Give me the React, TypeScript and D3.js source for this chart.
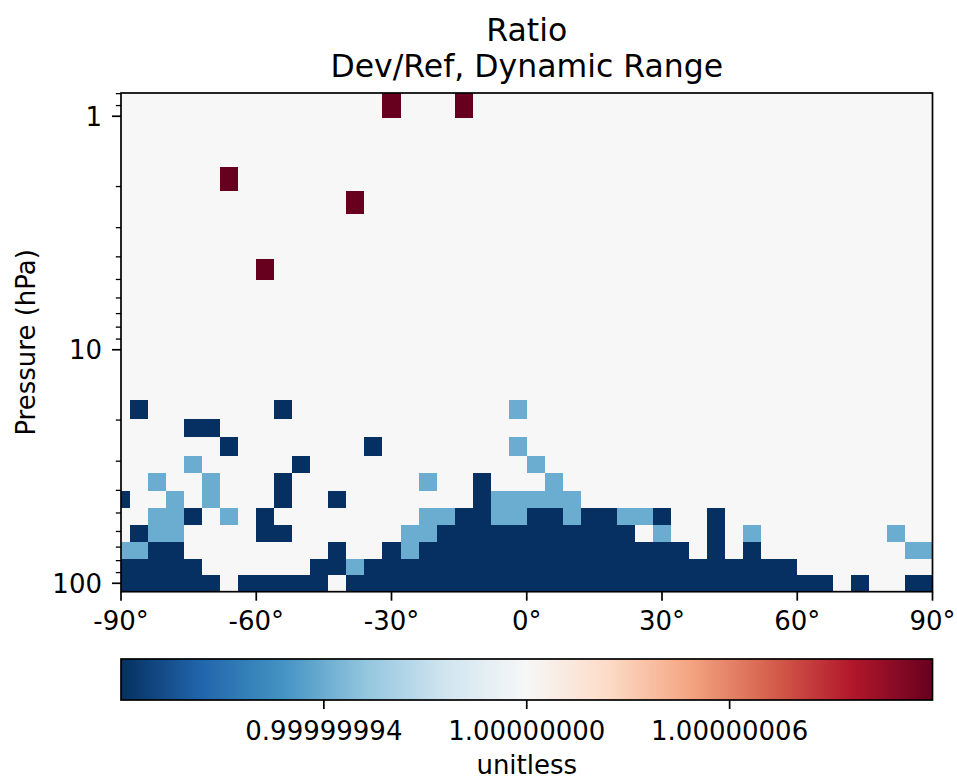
import React from 'react';
import * as d3 from 'd3';

// ---------------- DATA ----------------
// Latitude cell edges (4x5 grid, half-size polar cells)
const LAT_EDGES = [
  -90, -88, -84, -80, -76, -72, -68, -64, -60, -56, -52, -48, -44, -40, -36, -32,
  -28, -24, -20, -16, -12, -8, -4, 0, 4, 8, 12, 16, 20, 24, 28, 32, 36, 40, 44,
  48, 52, 56, 60, 64, 68, 72, 76, 80, 84, 88, 90,
];

// Pressure level edges (hPa), bottom to top
const PRESSURE_EDGES = [
  108.663, 92.36572, 78.51231, 66.60341, 56.38791, 47.64391, 40.17541, 33.81001,
  28.36781, 23.73041, 19.7916, 16.4571, 13.6434, 11.2769, 9.292942, 7.619842,
  6.216801, 5.046801, 4.076571, 3.276431, 2.620211, 2.08497, 1.65079, 1.30051,
  1.01944, 0.7951341,
];

// Cell value codes
const VALUE_BACKGROUND = 1.0;
const CODE_VALUES: Record<string, number> = {
  D: 1 - 1.1920929e-7, // dark blue
  L: 1 - 5.9604645e-8, // light blue
  R: 1 + 1.1920929e-7, // dark red
};

// Runs of non-unity cells: [levelIndex, firstLatIndex, lastLatIndex, code]
const CELL_RUNS: [number, number, number, string][] = [
  [0, 0, 5, 'D'], [0, 7, 11, 'D'], [0, 13, 39, 'D'], [0, 41, 41, 'D'], [0, 44, 45, 'D'],
  [1, 0, 4, 'D'], [1, 11, 12, 'D'], [1, 13, 13, 'L'], [1, 14, 37, 'D'],
  [2, 0, 1, 'L'], [2, 2, 3, 'D'], [2, 12, 12, 'D'], [2, 15, 15, 'D'], [2, 16, 16, 'L'],
  [2, 17, 31, 'D'], [2, 33, 33, 'D'], [2, 35, 35, 'D'], [2, 44, 45, 'L'],
  [3, 1, 1, 'D'], [3, 2, 3, 'L'], [3, 8, 9, 'D'], [3, 16, 17, 'L'], [3, 18, 28, 'D'],
  [3, 30, 30, 'L'], [3, 33, 33, 'D'], [3, 35, 35, 'L'], [3, 43, 43, 'L'],
  [4, 2, 3, 'L'], [4, 4, 4, 'D'], [4, 6, 6, 'L'], [4, 8, 8, 'D'], [4, 17, 18, 'L'],
  [4, 19, 20, 'D'], [4, 21, 22, 'L'], [4, 23, 24, 'D'], [4, 25, 25, 'L'], [4, 26, 27, 'D'],
  [4, 28, 29, 'L'], [4, 30, 30, 'D'], [4, 33, 33, 'D'],
  [5, 0, 0, 'D'], [5, 3, 3, 'L'], [5, 5, 5, 'L'], [5, 9, 9, 'D'], [5, 12, 12, 'D'],
  [5, 20, 20, 'D'], [5, 21, 25, 'L'],
  [6, 2, 2, 'L'], [6, 5, 5, 'L'], [6, 9, 9, 'D'], [6, 17, 17, 'L'], [6, 20, 20, 'D'], [6, 24, 24, 'L'],
  [7, 4, 4, 'L'], [7, 10, 10, 'D'], [7, 23, 23, 'L'],
  [8, 6, 6, 'D'], [8, 14, 14, 'D'], [8, 22, 22, 'L'],
  [9, 4, 5, 'D'],
  [10, 1, 1, 'D'], [10, 9, 9, 'D'], [10, 22, 22, 'L'],
  [17, 8, 8, 'R'],
  [20, 13, 13, 'R'],
  [21, 6, 6, 'R'],
  [24, 15, 15, 'R'], [24, 19, 19, 'R'],
];

const X_TICKS = [-90, -60, -30, 0, 30, 60, 90];
const Y_TICKS_MAJOR = [1, 10, 100];
const Y_TICKS_MINOR = [0.8, 0.9, 2, 3, 4, 5, 6, 7, 8, 9, 20, 30, 40, 50, 60, 70, 80, 90];
const CBAR_MIN = 1 - 1.1920929e-7;
const CBAR_MAX = 1 + 1.1920929e-7;
const CBAR_TICKS = [1 - 5.9604645e-8, 1.0, 1 + 5.9604645e-8];

// matplotlib RdBu_r control colours
const RDBU_R = [
  '#053061', '#2166ac', '#4393c3', '#92c5de', '#d1e5f0', '#f7f7f7',
  '#fddbc7', '#f4a582', '#d6604d', '#b2182b', '#67001f',
];

const TITLE_LINES = ['Ratio', 'Dev/Ref, Dynamic Range'];
const Y_LABEL = 'Pressure (hPa)';
const CBAR_LABEL = 'unitless';

// ---------------- LAYOUT ----------------
const W = 957;
const H = 782;
const PL = 121;
const PR = 932.5;
const PT = 93;
const PB = 591.7;
const CB_TOP = 659;
const CB_BOT = 700;
const FONT = 'DejaVu Sans, sans-serif';
const TICK_FS = 26;
const TITLE_FS = 31.5;

export default function App() {
  const x = d3.scaleLinear().domain([-90, 90]).range([PL, PR]);
  const y = d3
    .scaleLog()
    .domain([PRESSURE_EDGES[0], PRESSURE_EDGES[PRESSURE_EDGES.length - 1]])
    .range([PB, PT]);

  const cmap = d3
    .scaleLinear<string>()
    .domain(RDBU_R.map((_, i) => i / (RDBU_R.length - 1)))
    .range(RDBU_R)
    .interpolate(d3.interpolateRgb)
    .clamp(true);
  const norm = d3.scaleLinear().domain([CBAR_MIN, CBAR_MAX]).range([0, 1]);
  const colorOf = (v: number) => cmap(norm(v));

  const nLev = PRESSURE_EDGES.length - 1;
  const nLat = LAT_EDGES.length - 1;
  const grid: number[][] = d3.range(nLev).map(() => d3.range(nLat).map(() => VALUE_BACKGROUND));
  CELL_RUNS.forEach(([r, c0, c1, code]) => {
    for (let c = c0; c <= c1; c++) grid[r][c] = CODE_VALUES[code];
  });

  const cells: React.ReactNode[] = [];
  grid.forEach((row, r) => {
    row.forEach((v, c) => {
      const x0 = x(LAT_EDGES[c]);
      const x1 = x(LAT_EDGES[c + 1]);
      const y0 = y(PRESSURE_EDGES[r + 1]);
      const y1 = y(PRESSURE_EDGES[r]);
      cells.push(
        <rect
          key={`${r}-${c}`}
          x={x0}
          y={y0}
          width={x1 - x0}
          height={y1 - y0}
          fill={colorOf(v)}
        />
      );
    });
  });

  const cbX = d3.scaleLinear().domain([CBAR_MIN, CBAR_MAX]).range([PL, PR]);

  return (
    <svg
      width={W}
      height={H}
      style={{ position: 'absolute', left: 0, top: 0, background: '#fff' }}
      fontFamily={FONT}
    >
      <defs>
        <clipPath id="plotclip">
          <rect x={PL} y={PT} width={PR - PL} height={PB - PT} />
        </clipPath>
        <linearGradient id="cbgrad" x1="0" x2="1" y1="0" y2="0">
          {RDBU_R.map((c, i) => (
            <stop key={i} offset={`${(i / (RDBU_R.length - 1)) * 100}%`} stopColor={c} />
          ))}
        </linearGradient>
      </defs>

      {/* Title */}
      {TITLE_LINES.map((t, i) => (
        <text key={t} x={(PL + PR) / 2} y={41 + i * 36} fontSize={TITLE_FS} textAnchor="middle" fill="#000">
          {t}
        </text>
      ))}

      {/* Heatmap */}
      <g clipPath="url(#plotclip)" shapeRendering="crispEdges">{cells}</g>

      {/* Y ticks */}
      {Y_TICKS_MINOR.map((t) => (
        <line key={`mn${t}`} x1={PL} x2={PL - 5.2} y1={y(t)} y2={y(t)} stroke="#000" strokeWidth={1.3} />
      ))}
      {Y_TICKS_MAJOR.map((t) => (
        <g key={`mj${t}`}>
          <line x1={PL} x2={PL - 9} y1={y(t)} y2={y(t)} stroke="#000" strokeWidth={1.7} />
          <text x={PL - 19} y={y(t)} dy="0.36em" fontSize={TICK_FS} textAnchor="end" fill="#000">
            {t}
          </text>
        </g>
      ))}

      {/* X ticks */}
      {X_TICKS.map((t) => (
        <g key={`x${t}`}>
          <line x1={x(t)} x2={x(t)} y1={PB} y2={PB + 9} stroke="#000" strokeWidth={1.7} />
          <text x={x(t)} y={630} fontSize={TICK_FS} textAnchor="middle" fill="#000">
            {`${t}°`}
          </text>
        </g>
      ))}

      {/* Spines */}
      <rect x={PL} y={PT} width={PR - PL} height={PB - PT} fill="none" stroke="#000" strokeWidth={1.7} />

      {/* Y label */}
      <text
        transform={`translate(35, ${(PT + PB) / 2}) rotate(-90)`}
        fontSize={TICK_FS}
        textAnchor="middle"
        fill="#000"
      >
        {Y_LABEL}
      </text>

      {/* Colorbar */}
      <rect x={PL} y={CB_TOP} width={PR - PL} height={CB_BOT - CB_TOP} fill="url(#cbgrad)" />
      <rect x={PL} y={CB_TOP} width={PR - PL} height={CB_BOT - CB_TOP} fill="none" stroke="#000" strokeWidth={1.7} />
      {CBAR_TICKS.map((t) => (
        <g key={`cb${t}`}>
          <line x1={cbX(t)} x2={cbX(t)} y1={CB_BOT} y2={CB_BOT + 9} stroke="#000" strokeWidth={1.7} />
          <text x={cbX(t)} y={740} fontSize={TICK_FS} textAnchor="middle" fill="#000">
            {t.toFixed(8)}
          </text>
        </g>
      ))}
      <text x={(PL + PR) / 2} y={774} fontSize={TICK_FS} textAnchor="middle" fill="#000">
        {CBAR_LABEL}
      </text>
    </svg>
  );
}
